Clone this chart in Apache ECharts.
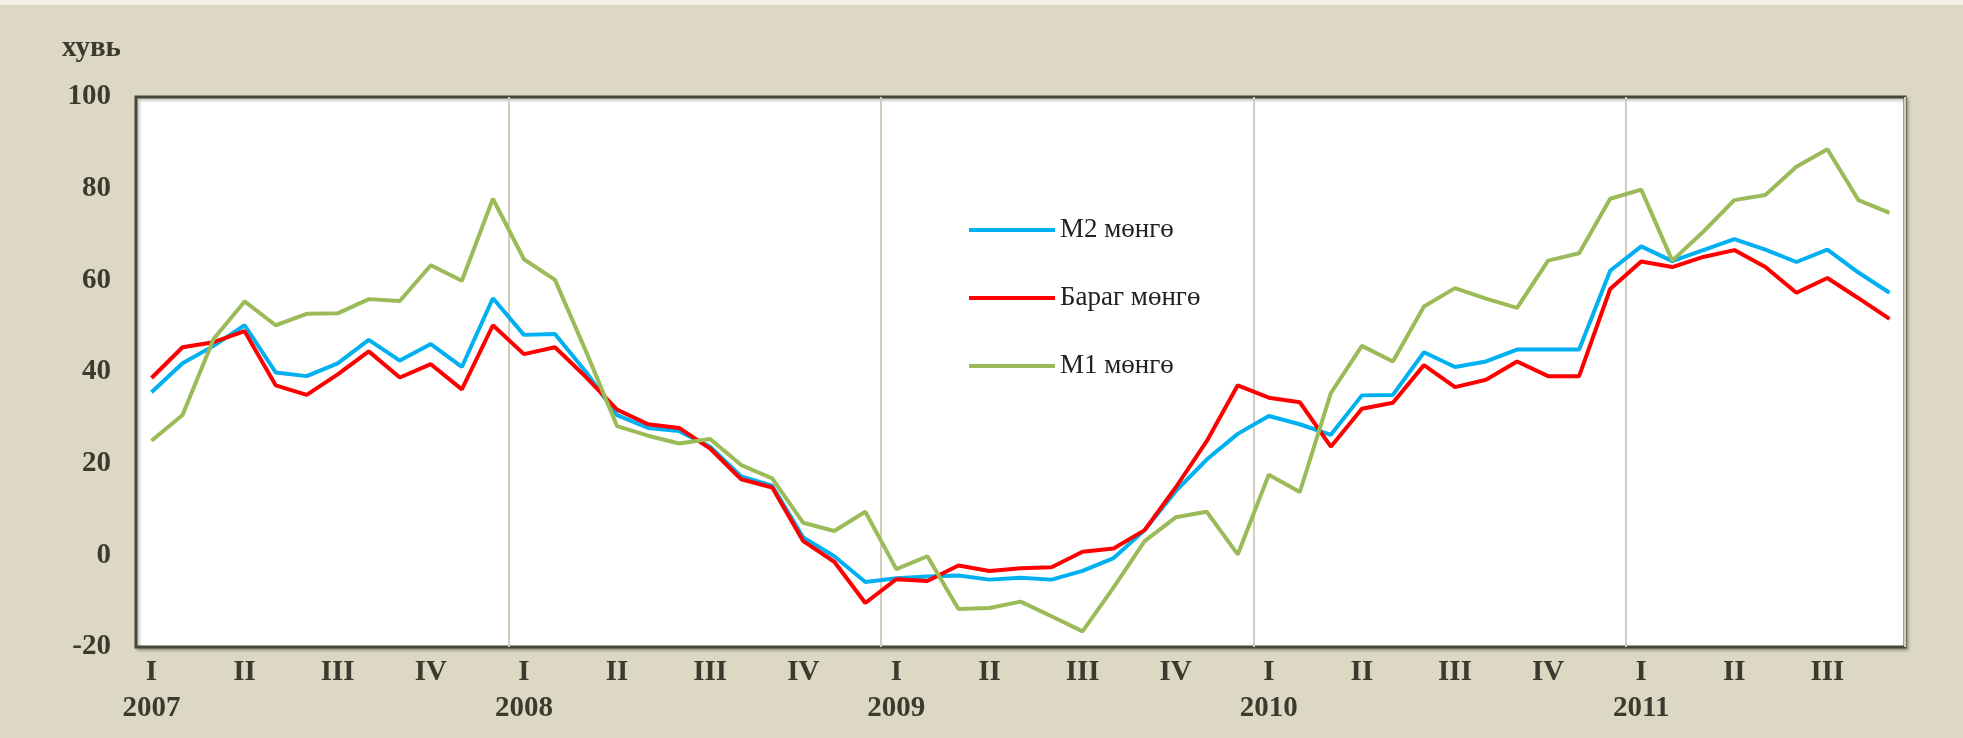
<!DOCTYPE html>
<html>
<head>
<meta charset="utf-8">
<script src="https://cdn.jsdelivr.net/npm/echarts@6/dist/echarts.min.js"></script>
<style>
  html, body { margin: 0; padding: 0; background: #DDD8C3; }
  #chart { width: 1963px; height: 738px; }
</style>
</head>
<body>
<div id="chart"></div>
<script>
// ---- data ----
const years = ['2007', '2008', '2009', '2010', '2011'];
const quarterLabels = ['I', 'II', 'III', 'IV'];
const monthsShown = 57; // Jan 2007 .. Sep 2011
const categories = [];
for (let i = 0; i < monthsShown; i++) {
  const y = years[Math.floor(i / 12)];
  const m = (i % 12) + 1;
  categories.push(y + '-' + (m < 10 ? '0' + m : m));
}

const seriesNames = ['M2 мөнгө', 'Бараг мөнгө', 'M1 мөнгө'];

const m2Values = [
  35.6, 41.9, 45.7, 50.2, 39.9, 39.1, 41.9, 47.0, 42.5, 46.1, 41.1, 56.1,
  48.1, 48.3, 40.0, 30.6, 27.8, 27.1, 23.7, 17.2, 15.2, 3.9, -0.2, -5.8,
  -5.0, -4.6, -4.4, -5.3, -4.9, -5.3, -3.4, -0.6, 5.5, 14.0, 20.9, 26.5,
  30.4, 28.6, 26.3, 34.9, 35.0, 44.3, 41.1, 42.3, 44.9, 44.9, 44.9, 62.1,
  67.4, 64.2, 66.6, 69.0, 66.7, 64.0, 66.7, 61.7, 57.3
];
const quasiValues = [
  38.7, 45.4, 46.5, 48.9, 37.1, 35.0, 39.5, 44.5, 38.8, 41.7, 36.2, 50.2,
  43.9, 45.4, 38.9, 31.8, 28.6, 27.8, 23.3, 16.6, 14.8, 3.1, -1.4, -10.4,
  -5.2, -5.6, -2.2, -3.4, -2.8, -2.6, 0.8, 1.5, 5.5, 14.8, 24.9, 37.1,
  34.4, 33.4, 23.7, 32.0, 33.3, 41.5, 36.7, 38.3, 42.3, 39.1, 39.1, 58.1,
  64.1, 62.9, 65.1, 66.6, 62.9, 57.3, 60.5, 56.1, 51.6
];
const m1Values = [
  25.0, 30.6, 47.2, 55.4, 50.2, 52.7, 52.8, 55.9, 55.5, 63.3, 59.9, 77.8,
  64.6, 60.1, 44.5, 28.2, 26.1, 24.4, 25.4, 19.7, 16.8, 7.1, 5.3, 9.5,
  -3.0, -0.2, -11.7, -11.5, -10.1, -13.3, -16.6, -7.0, 3.1, 8.3, 9.5, 0.2,
  17.6, 13.8, 35.4, 45.7, 42.3, 54.3, 58.3, 56.0, 54.0, 64.3, 65.9, 77.8,
  79.8, 64.3, 70.6, 77.5, 78.6, 84.8, 88.6, 77.5, 74.7
];

const colors = ['#00B0F0', '#FF0000', '#9BBB59'];
const textColor = '#3a3a2e';
const serif = '"Liberation Serif", "Times New Roman", serif';

const chart = echarts.init(document.getElementById('chart'), null, { renderer: 'canvas' });

chart.setOption({
  backgroundColor: '#DDD8C3',
  animation: false,
  graphic: [
    { type: 'rect', left: 0, top: 0, shape: { width: 1963, height: 5 }, style: { fill: '#F2F0E8' } },
    { type: 'text', left: 62, top: 34,
      style: { text: 'хувь', font: 'bold 29px ' + serif, fill: textColor } }
  ],
  grid: {
    left: 136, right: 58, top: 97, bottom: 91,
    show: true, backgroundColor: '#ffffff',
    borderColor: '#46463a', borderWidth: 3,
    shadowColor: 'rgba(60,60,40,0.35)', shadowBlur: 3, shadowOffsetX: 2, shadowOffsetY: 2
  },
  legend: {
    orient: 'vertical', left: 969, top: 215, padding: 0,
    icon: 'rect', itemWidth: 86, itemHeight: 4, itemGap: 38,
    data: seriesNames,
    textStyle: { fontFamily: serif, fontSize: 27, color: '#222222', lineHeight: 30 }
  },
  xAxis: {
    type: 'category', data: categories, boundaryGap: true,
    axisLine: { show: false }, axisTick: { show: false },
    splitLine: {
      show: true,
      interval: function (index) { return index > 0 && index % 12 === 0; },
      lineStyle: { color: '#D3CEBB', width: 2 }
    },
    axisLabel: {
      interval: function (index) { return index % 3 === 0; },
      formatter: function (value) {
        const parts = value.split('-');
        const m = parseInt(parts[1], 10);
        const q = quarterLabels[Math.floor((m - 1) / 3)];
        return m === 1 ? q + '\n' + parts[0] : q;
      },
      fontFamily: serif, fontWeight: 'bold', fontSize: 29, color: textColor,
      lineHeight: 36, margin: 8
    }
  },
  yAxis: {
    type: 'value', min: -20, max: 100, interval: 20,
    axisLine: { show: false }, axisTick: { show: false }, splitLine: { show: false },
    axisLabel: { fontFamily: serif, fontWeight: 'bold', fontSize: 29, color: textColor, margin: 25 }
  },
  series: [
    { name: seriesNames[0], type: 'line', data: m2Values, showSymbol: false,
      lineStyle: { color: colors[0], width: 4 }, itemStyle: { color: colors[0] } },
    { name: seriesNames[1], type: 'line', data: quasiValues, showSymbol: false,
      lineStyle: { color: colors[1], width: 4 }, itemStyle: { color: colors[1] } },
    { name: seriesNames[2], type: 'line', data: m1Values, showSymbol: false,
      lineStyle: { color: colors[2], width: 4 }, itemStyle: { color: colors[2] } }
  ]
});
</script>
</body>
</html>
